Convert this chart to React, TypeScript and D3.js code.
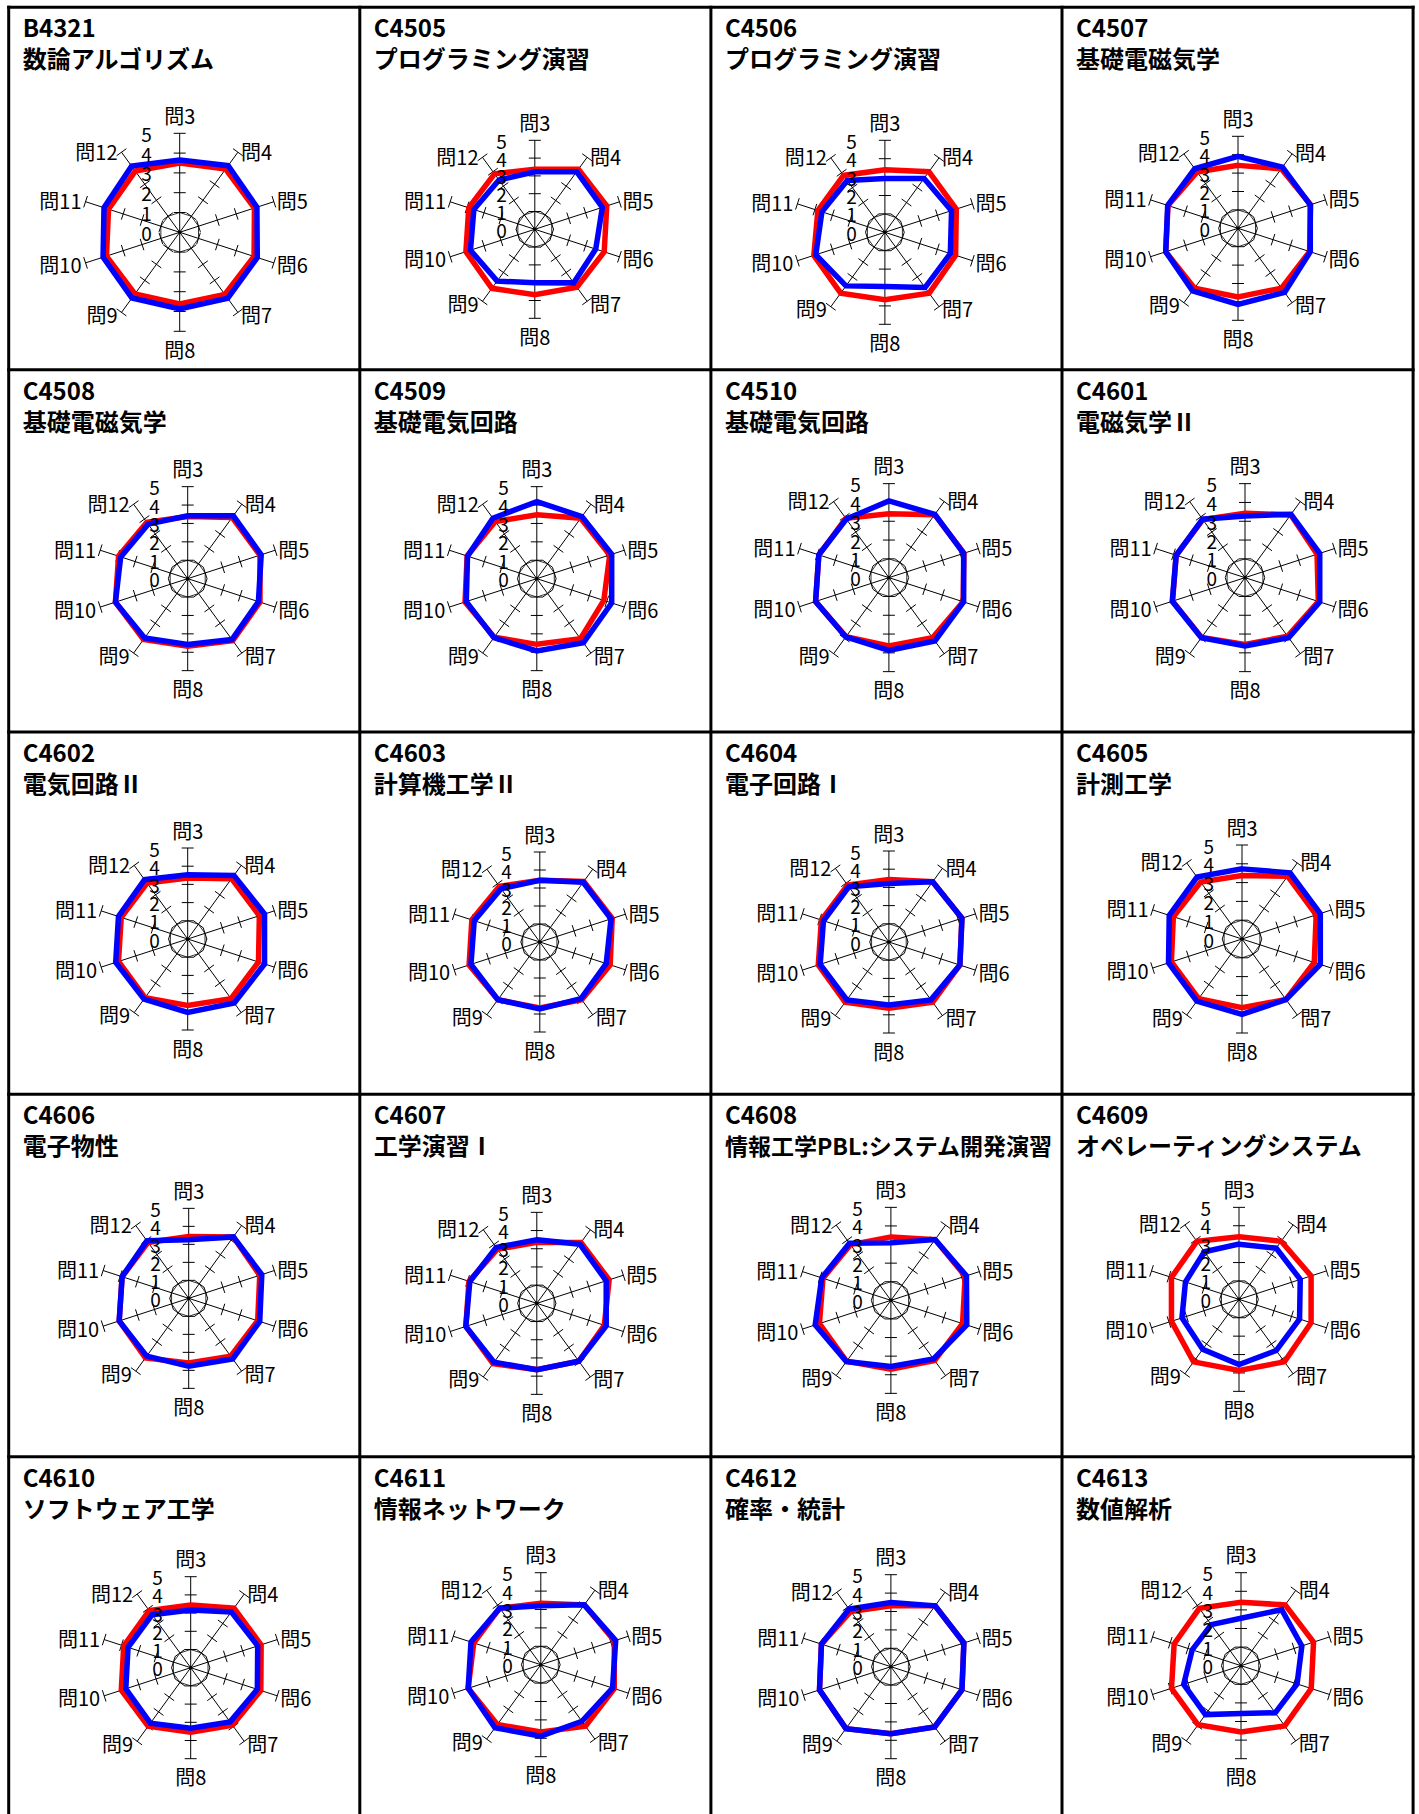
import React from 'react'
import * as d3 from 'd3'

const questionLabels = ['問3', '問4', '問5', '問6', '問7', '問8', '問9', '問10', '問11', '問12']
const scaleTicks = [0, 1, 2, 3, 4, 5]

const courseCodes = [
  'B4321', 'C4505', 'C4506', 'C4507',
  'C4508', 'C4509', 'C4510', 'C4601',
  'C4602', 'C4603', 'C4604', 'C4605',
  'C4606', 'C4607', 'C4608', 'C4609',
  'C4610', 'C4611', 'C4612', 'C4613'
]

const courseNames = [
  '数論アルゴリズム', 'プログラミング演習', 'プログラミング演習', '基礎電磁気学',
  '基礎電磁気学', '基礎電気回路', '基礎電気回路', '電磁気学Ⅱ',
  '電気回路Ⅱ', '計算機工学Ⅱ', '電子回路Ⅰ', '計測工学',
  '電子物性', '工学演習Ⅰ', '情報工学PBL:システム開発演習', 'オペレーティングシステム',
  'ソフトウェア工学', '情報ネットワーク', '確率・統計', '数値解析'
]

// red series, 問3..問12
const redScores = [
  [3.5, 3.95, 3.97, 3.95, 3.88, 3.62, 3.85, 3.89, 3.78, 3.82],
  [3.38, 4.17, 4.25, 4.1, 4.02, 3.67, 4.1, 4.07, 3.9, 3.85],
  [3.4, 4.07, 4.08, 4.04, 4.09, 3.67, 4.09, 4.06, 3.83, 3.82],
  [3.42, 4.0, 4.15, 4.09, 4.02, 3.73, 4.02, 4.13, 4.0, 3.78],
  [3.38, 4.11, 4.13, 4.13, 4.16, 3.67, 4.09, 4.13, 3.95, 3.78],
  [3.47, 4.06, 4.17, 3.83, 4.04, 3.57, 3.93, 4.1, 3.98, 3.84],
  [3.4, 4.14, 4.2, 4.15, 3.95, 3.63, 3.88, 4.1, 3.92, 3.9],
  [3.42, 4.14, 4.03, 4.1, 3.85, 3.55, 3.93, 4.05, 3.85, 3.82],
  [3.35, 4.1, 4.14, 4.09, 4.05, 3.65, 3.99, 4.0, 3.84, 3.8],
  [3.43, 4.16, 4.23, 4.11, 3.96, 3.67, 3.96, 4.13, 3.97, 3.82],
  [3.44, 4.09, 4.22, 4.1, 4.09, 3.64, 4.09, 4.08, 3.9, 3.86],
  [3.38, 4.13, 4.15, 4.04, 3.98, 3.66, 3.92, 3.95, 3.84, 3.74],
  [3.44, 4.22, 4.15, 4.03, 3.97, 3.59, 4.09, 4.06, 3.89, 3.84],
  [3.35, 4.13, 4.18, 3.9, 3.93, 3.64, 4.09, 4.1, 3.92, 3.68],
  [3.41, 4.04, 4.2, 4.05, 4.0, 3.7, 4.05, 4.04, 3.84, 3.7],
  [3.4, 3.9, 4.12, 4.12, 4.2, 3.86, 4.2, 3.86, 3.86, 3.9],
  [3.44, 4.05, 4.07, 4.05, 3.9, 3.55, 3.98, 4.01, 3.87, 3.88],
  [3.34, 4.02, 4.2, 4.2, 4.13, 3.66, 4.02, 4.15, 3.83, 3.8],
  [3.31, 4.09, 4.17, 4.06, 4.05, 3.64, 4.16, 4.08, 3.97, 3.71],
  [3.41, 4.04, 4.1, 3.97, 4.0, 3.56, 3.93, 3.93, 3.78, 3.81]
]

// blue series, 問3..問12
const blueScores = [
  [3.65, 4.16, 4.1, 4.12, 4.12, 3.87, 4.1, 4.07, 4.02, 4.13],
  [3.23, 4.0, 3.99, 3.6, 3.72, 3.0, 3.6, 3.8, 3.6, 3.42],
  [2.93, 3.62, 3.81, 3.74, 3.71, 2.95, 3.6, 3.95, 3.6, 3.48],
  [3.91, 4.11, 4.13, 4.13, 4.31, 4.13, 4.2, 4.13, 4.02, 4.0],
  [3.42, 4.22, 4.2, 4.04, 4.09, 3.58, 3.98, 4.13, 3.83, 3.66],
  [4.19, 4.17, 4.28, 4.28, 4.31, 3.93, 3.97, 4.03, 3.96, 4.06],
  [4.08, 4.16, 4.18, 4.18, 4.16, 3.87, 3.9, 4.1, 3.92, 3.85],
  [3.28, 4.16, 4.18, 4.18, 3.95, 3.63, 3.95, 4.07, 3.85, 3.84],
  [3.53, 4.32, 4.44, 4.44, 4.35, 4.03, 4.08, 4.16, 4.0, 4.03],
  [3.43, 4.1, 4.16, 3.88, 3.89, 3.72, 3.96, 4.02, 3.83, 3.66],
  [3.22, 4.09, 4.22, 4.1, 3.93, 3.46, 3.93, 3.97, 3.78, 3.75],
  [3.73, 4.35, 4.38, 4.38, 3.98, 4.01, 4.09, 4.11, 4.07, 4.07],
  [3.25, 4.22, 4.27, 4.15, 4.16, 3.77, 3.97, 4.06, 3.89, 3.95],
  [3.49, 4.02, 4.01, 4.01, 3.93, 3.64, 4.0, 4.1, 3.87, 3.8],
  [3.09, 4.04, 4.27, 4.29, 3.9, 3.55, 4.07, 4.28, 3.91, 3.79],
  [3.0, 3.44, 3.5, 3.46, 3.44, 3.54, 3.36, 3.26, 3.06, 3.2],
  [3.17, 3.79, 3.87, 3.85, 3.68, 3.33, 3.77, 3.75, 3.62, 3.6],
  [3.2, 4.02, 4.28, 4.1, 3.8, 3.88, 4.24, 4.15, 3.99, 3.8],
  [3.49, 4.09, 4.17, 4.06, 4.05, 3.64, 4.16, 4.08, 3.97, 3.87],
  [2.55, 3.72, 3.44, 3.17, 3.13, 2.57, 3.25, 3.24, 2.76, 2.73]
]

// plot centre offset inside its cell and outer radius, per chart
const plotLayout = [
  [171, 225, 99], [175, 222, 89], [174, 225, 92], [176, 221, 92],
  [179, 209, 92], [177, 209, 92], [178, 208, 94], [183, 208, 94],
  [179, 207, 91], [180, 210, 90], [178, 210, 91], [180, 207, 94],
  [180, 204, 90], [177, 209, 91], [180, 206, 93], [177, 205, 92],
  [182, 211, 91], [181, 208, 92], [180, 210, 92], [179, 209, 93]
]

const pageW = 1419
const pageH = 1814
const cols = 4
const gridX0 = 8.7
const gridY0 = 7.3
const cellW = 351.1
const cellH = 362.35
const font = "'Noto Sans CJK JP', 'Noto Sans', sans-serif"

const Radar = ({ cx, cy, R, red, blue }) => {
  const n = questionLabels.length
  const r = d3.scaleLinear().domain([0, 5]).range([0, R])
  const angle = d3.scaleLinear().domain([0, n]).range([0, 2 * Math.PI])
  const line = d3
    .lineRadial()
    .angle((d, i) => angle(i))
    .radius(d => r(d))
    .curve(d3.curveLinearClosed)
  const pt = (i, v) => [Math.sin(angle(i)) * r(v), -Math.cos(angle(i)) * r(v)]

  return (
    <g transform={`translate(${cx},${cy})`}>
      <path d={line(questionLabels.map(() => 1))} fill="none" stroke="#333" strokeWidth={1} />
      {questionLabels.map((q, i) => {
        const [ex, ey] = pt(i, 5)
        const ca = Math.cos(angle(i))
        const sa = Math.sin(angle(i))
        return (
          <g key={q}>
            <line x1={0} y1={0} x2={ex} y2={ey} stroke="#000" strokeWidth={1} />
            {scaleTicks.slice(1).map(t => {
              const [tx, ty] = pt(i, t)
              return (
                <line key={t} x1={tx - ca * 6} y1={ty - sa * 6} x2={tx + ca * 6} y2={ty + sa * 6}
                  stroke="#000" strokeWidth={1} />
              )
            })}
          </g>
        )
      })}
      <circle r={1.8} fill="#000" />
      <path d={line(red)} fill="none" stroke="#ff0000" strokeWidth={5.5} strokeLinejoin="miter" />
      <path d={line(blue)} fill="none" stroke="#0000ff" strokeWidth={5.5} strokeLinejoin="miter" />
      {scaleTicks.map(t => (
        <text key={t} x={-28} y={-r(t)} textAnchor="end" dominantBaseline="central"
          fontSize={19} fontFamily={font} fill="#000">{t}</text>
      ))}
      {questionLabels.map((q, i) => {
        const [ex, ey] = pt(i, 5)
        let x = ex
        let y = ey
        let anchor = 'middle'
        if (i === 0) y = ey - 18
        else if (i === n / 2) y = ey + 18
        else if (i < n / 2) { x = ex + 3; anchor = 'start'; y = ey + (i > 2 ? 2 : -1) }
        else { x = ex - 4; anchor = 'end'; y = ey + (i < 8 ? 2 : -1) }
        return (
          <text key={q} x={x} y={y} textAnchor={anchor} dominantBaseline="central"
            fontSize={20} fontFamily={font} fill="#000">{q}</text>
        )
      })}
    </g>
  )
}

const App = () => {
  const vLines = d3.range(cols + 1).map(k => gridX0 + k * cellW)
  const hLines = d3.range(5).map(k => gridY0 + k * cellH)
  return (
    <svg width={pageW} height={pageH} style={{ position: 'absolute', left: 0, top: 0, background: '#fff' }}>
      <rect width={pageW} height={pageH} fill="#fff" />
      {courseCodes.map((code, idx) => {
        const col = idx % cols
        const row = Math.floor(idx / cols)
        const x0 = gridX0 + col * cellW
        const y0 = gridY0 + row * cellH
        const [dx, dy, R] = plotLayout[idx]
        const name = courseNames[idx]
        return (
          <g key={code}>
            <text x={x0 + 14} y={y0 + 30} fontSize={24} fontWeight="bold" fontFamily={font}>{code}</text>
            <text x={x0 + 14} y={y0 + 61} fontSize={name.length > 12 ? 23 : 24} fontWeight="bold"
              fontFamily={font}>{name}</text>
            <Radar cx={x0 + dx} cy={y0 + dy} R={R} red={redScores[idx]} blue={blueScores[idx]} />
          </g>
        )
      })}
      {vLines.map((x, k) => (
        <line key={'v' + k} x1={x} y1={gridY0 - 1.5} x2={x} y2={pageH} stroke="#000" strokeWidth={3} />
      ))}
      {hLines.map((y, k) => (
        <line key={'h' + k} x1={gridX0 - 1.5} y1={y} x2={gridX0 + cols * cellW + 1.5} y2={y}
          stroke="#000" strokeWidth={3} />
      ))}
    </svg>
  )
}

export default App
